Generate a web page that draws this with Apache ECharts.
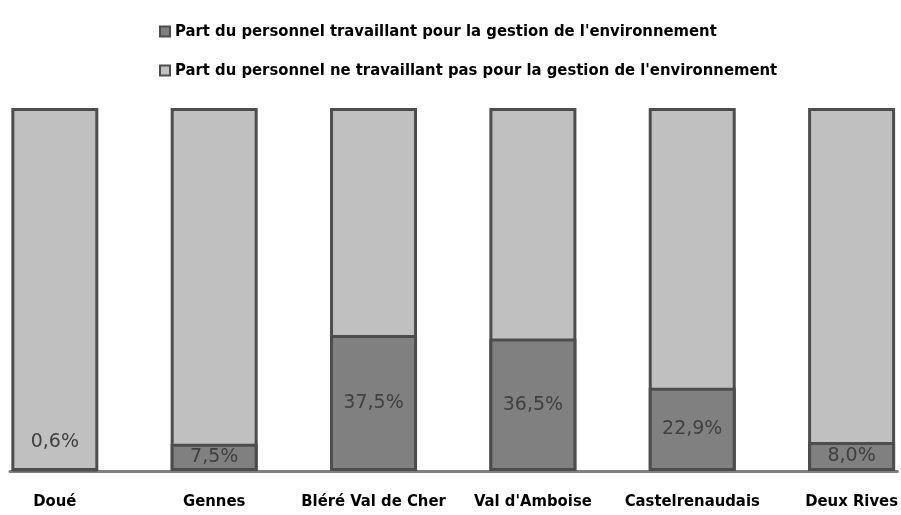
<!DOCTYPE html>
<html>
<head>
<meta charset="utf-8">
<script src="https://cdn.jsdelivr.net/npm/echarts@6/dist/echarts.min.js"></script>
<style>
  html, body { margin: 0; padding: 0; background: #fff; }
  #chart { width: 901px; height: 515px; }
</style>
</head>
<body>
<div id="chart"></div>
<script>
// données du graphique
const categories = ["Doué", "Gennes", "Bléré Val de Cher", "Val d'Amboise", "Castelrenaudais", "Deux Rives"];
const partEnv = [0.6, 7.5, 37.5, 36.5, 22.9, 8.0];
const partAutre = [99.4, 92.5, 62.5, 63.5, 77.1, 92.0];
const seriesNames = [
  "Part du personnel travaillant pour la gestion de l'environnement",
  "Part du personnel ne travaillant pas pour la gestion de l'environnement"
];

const chart = echarts.init(document.getElementById("chart"));
const labelFont = "'Liberation Sans Narrow', 'DejaVu Sans Condensed', 'Liberation Sans', sans-serif";
const catIdx = categories.map(function (c, i) { return i; });

const envData = partEnv.map(function (v, i) {
  const item = { value: [i, v] };
  if (i === 0) {
    // petite valeur : étiquette remontée dans la barre
    item.label = { offset: [0, -28] };
  }
  return item;
});
// barre claire = total empilé (env + autre), dessinée derrière la barre foncée
const autreData = partAutre.map(function (v, i) { return [i, partEnv[i] + v]; });

const option = {
  animation: false,
  legend: {
    orient: "vertical",
    left: 154,
    top: 18,
    itemGap: 22,
    itemWidth: 10,
    itemHeight: 10,
    icon: "rect",
    textStyle: { color: "#000", fontWeight: "bold", fontSize: 16.5, fontFamily: labelFont },
    data: seriesNames
  },
  grid: { left: 10, right: 0, top: 108, bottom: 44 },
  xAxis: {
    type: "value",
    min: -0.28125,
    max: 5.2875,
    splitLine: { show: false },
    axisLine: { show: true, lineStyle: { color: "#808080", width: 3 } },
    axisTick: { show: false },
    axisLabel: {
      customValues: catIdx,
      formatter: function (v) { return categories[Math.round(v)]; },
      color: "#000",
      fontWeight: "bold",
      fontSize: 16.5,
      fontFamily: labelFont,
      margin: 22
    }
  },
  yAxis: {
    type: "value",
    min: 0,
    max: 100,
    show: false,
    splitLine: { show: false }
  },
  series: [
    {
      name: seriesNames[1],
      type: "bar",
      barWidth: 87,
      barGap: "-100%",
      z: 1,
      data: autreData,
      itemStyle: { color: "#c0c0c0", borderColor: "#4d4d4d", borderWidth: 3 }
    },
    {
      name: seriesNames[0],
      type: "bar",
      barWidth: 87,
      barGap: "-100%",
      z: 3,
      data: envData,
      itemStyle: { color: "#808080", borderColor: "#4d4d4d", borderWidth: 3 },
      label: {
        show: true,
        position: "inside",
        formatter: function (p) { return p.value[1].toFixed(1).replace(".", ",") + "%"; },
        color: "#404040",
        fontSize: 19,
        fontFamily: "'DejaVu Sans', sans-serif"
      }
    }
  ]
};

chart.setOption(option);
window.addEventListener("resize", function () {
  chart.resize();
});
</script>
</body>
</html>
